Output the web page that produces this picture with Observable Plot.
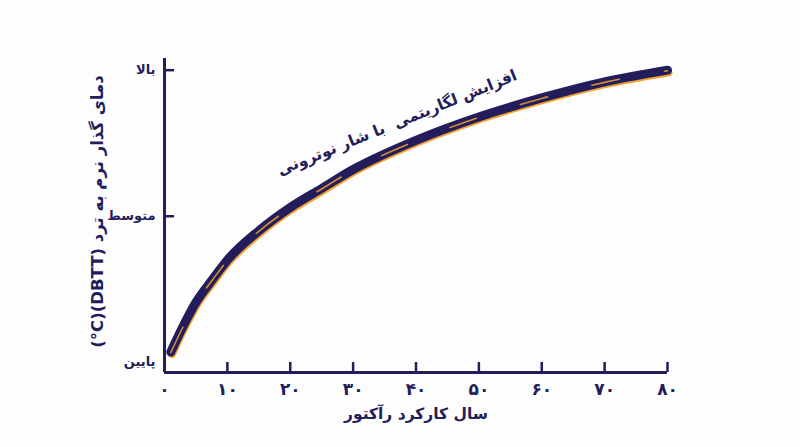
<!DOCTYPE html>
<html>
<head>
<meta charset="utf-8">
<script src="https://cdn.jsdelivr.net/npm/d3@7"></script>
<script src="https://cdn.jsdelivr.net/npm/@observablehq/plot@0.6"></script>
<style>
  html, body { margin: 0; padding: 0; background: #fdfdfd; }
  #chart svg { display: block; font-family: "DejaVu Sans", "Noto Sans", sans-serif; }
</style>
</head>
<body>
<div id="chart"></div>
<script>
// ---- data ----
const years = [1, 3, 5, 7.5, 10, 15, 20, 25, 30, 40, 50, 60, 70, 80];
const dbtt  = [0.07, 0.25, 0.41, 0.56, 0.70, 0.90, 1.06, 1.19, 1.32, 1.52, 1.68, 1.81, 1.92, 2.0];
const xTicks = [0, 10, 20, 30, 40, 50, 60, 70, 80];
const xTickLabels = ["۰", "۱۰", "۲۰", "۳۰", "۴۰", "۵۰", "۶۰", "۷۰", "۸۰"];
const yTicks = [0, 1, 2];
const yTickLabels = ["پایین", "متوسط", "بالا"];
const xTitle = "سال کارکرد رآکتور";
const yTitle = "\u202Bدمای گذار نرم به ترد (DBTT)(\u200E°C)\u202C";
const annotationText = "افزایش لگاریتمی  با شار نوترونی";
const annotationAt = {year: 37, value: 1.64};

const data = years.map((x, i) => ({x, y: dbtt[i]}));
const navy = "#231d5c";
const orange = "#f2a12e";
const yMin = -0.07, yMax = 2.08;
const tickLen = 10 / 146; // ~10px in y units

const chart = Plot.plot({
  width: 800,
  height: 447,
  marginLeft: 164,
  marginRight: 133,
  marginTop: 58,
  marginBottom: 75,
  style: {background: "#fdfdfd", color: navy, overflow: "visible"},
  x: {domain: [0, 80], axis: null},
  y: {domain: [yMin, yMax], axis: null},
  marks: [
    // axes
    Plot.ruleX([0], {stroke: navy, strokeWidth: 3}),
    Plot.ruleY([yMin], {stroke: navy, strokeWidth: 3}),
    Plot.ruleX(xTicks.slice(1), {x: d => d, y1: yMin, y2: yMin + tickLen, stroke: navy, strokeWidth: 2.5}),
    Plot.ruleY(yTicks.slice(1), {y: d => d, x1: 0, x2: 1.6, stroke: navy, strokeWidth: 2.5}),
    Plot.text(xTicks, {x: d => d, y: yMin, text: (d, i) => xTickLabels[i], dy: 17, fontSize: 17, fontWeight: "bold", fill: navy}),
    Plot.text(yTicks, {x: 0, y: d => d, text: (d, i) => yTickLabels[i], textAnchor: "end", dx: -9, fontSize: 13, fontWeight: "bold", fill: navy}),
    Plot.text([xTitle], {frameAnchor: "bottom", dy: 46, fontSize: 15.5, fontWeight: "bold", fill: navy}),
    Plot.text([yTitle], {frameAnchor: "left", textAnchor: "middle", dx: -67, dy: -4, rotate: -90, fontSize: 16.5, fontWeight: "bold", fill: navy}),
    // curve: orange under-stroke then navy
    Plot.line(data, {x: "x", y: "y", curve: "monotone-x", stroke: orange, strokeWidth: 7, dx: 1.5, dy: 2.5, strokeLinecap: "round"}),
    Plot.line(data, {x: "x", y: "y", curve: "monotone-x", stroke: navy, strokeWidth: 9, strokeLinecap: "round", strokeLinejoin: "round"}),
    Plot.line(data, {x: "x", y: "y", curve: "monotone-x", stroke: orange, strokeWidth: 1.6, strokeOpacity: 0.85, strokeDasharray: "28,46", dy: 0.5}),
    // annotation
    Plot.text([annotationText], {x: annotationAt.year, y: annotationAt.value, rotate: -22, fontSize: 15.5, fontWeight: "bold", fill: navy})
  ]
});
document.getElementById("chart").appendChild(chart);
</script>
</body>
</html>
